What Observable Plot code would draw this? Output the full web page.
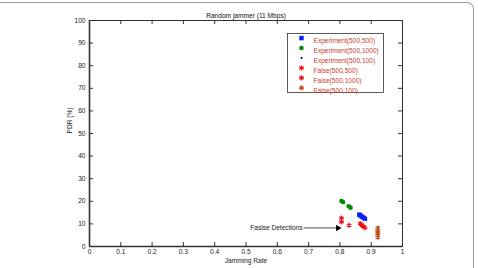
<!DOCTYPE html>
<html>
<head>
<meta charset="utf-8">
<script src="https://cdn.jsdelivr.net/npm/d3@7"></script>
<script src="https://cdn.jsdelivr.net/npm/@observablehq/plot@0.6"></script>
<style>
  body { margin: 0; background: #fff; }
  #fig { position: relative; width: 478px; height: 268px; overflow: hidden; }
  #edge {
    position: absolute; left: -20px; top: 2px; width: 494px; height: 320px;
    border-top: 1px solid #9a9a9a; border-right: 1px solid #9a9a9a;
    border-top-right-radius: 7px; box-sizing: border-box;
  }
  #fig svg { position: absolute; left: 0; top: 0; }
</style>
</head>
<body>
<div id="fig"><div id="edge"></div></div>
<script>
// Axis ticks
const xTicks = [0, 0.1, 0.2, 0.3, 0.4, 0.5, 0.6, 0.7, 0.8, 0.9, 1];
const yTicks = [0, 10, 20, 30, 40, 50, 60, 70, 80, 90, 100];

// Series names (legend order)
const seriesNames = [
  "Experiment(500,500)", "Experiment(500,1000)", "Experiment(500,100)",
  "False(500,500)", "False(500,1000)", "False(500,100)"
];

// Measured PDR vs jamming rate
const exp500x = [0.862, 0.866, 0.870, 0.875, 0.880];
const exp500y = [14.1, 13.7, 13.2, 12.8, 12.3];
const exp1000x = [0.805, 0.810, 0.828, 0.834];
const exp1000y = [20.1, 19.7, 17.8, 17.2];
const exp100x = [0.921, 0.921, 0.921, 0.921];
const exp100y = [8.7, 7.5, 6.3, 5.1];

// False detections
const false500x = [0.865, 0.870, 0.875, 0.880];
const false500y = [10.1, 9.5, 8.9, 8.3];
const false1000x = [0.805, 0.805, 0.829];
const false1000y = [12.6, 10.9, 9.4];
const false100x = [0.921, 0.921, 0.921, 0.921, 0.921];
const false100y = [8.0, 7.0, 6.0, 5.0, 4.1];

// Annotation
const noteText = "Faslse Detections";
const noteX = [0.684, 0.800];
const noteY = 8.2;

const title = "Random jammer (11 Mbps)";
const xLabel = "Jamming Rate";
const yLabel = "PDR (%)";

const zip = (xs, ys) => xs.map((x, i) => ({x, y: ys[i]}));

const W = 478, H = 268;
const mL = 89, mR = 76, mT = 20, mB = 22;
const pw = W - mL - mR, ph = H - mT - mB;
const font = "'Liberation Sans', Arial, sans-serif";
const fs = 6.6;
const axisColor = "#333";
const legendText = "#c8402e";

const styles = [
  {symbol: "square", fill: "#0a1ef5", r: 2.5},
  {symbol: "circle", fill: "#008a00", r: 2.3},
  {symbol: "circle", fill: "#000", r: 1.0},
  {symbol: "asterisk", stroke: "#f01010", r: 2.4, strokeWidth: 1.3},
  {symbol: "asterisk", stroke: "#e0141c", r: 2.4, strokeWidth: 1.3},
  {symbol: "asterisk", stroke: "#c4501c", r: 2.4, strokeWidth: 1.3}
];
const seriesData = [
  zip(exp500x, exp500y), zip(exp1000x, exp1000y), zip(exp100x, exp100y),
  zip(false500x, false500y), zip(false1000x, false1000y), zip(false100x, false100y)
];

const legendMarks = seriesNames.flatMap((name, i) => [
  Plot.dot([name], {frameAnchor: "top-right", dx: -101, dy: 17.6 + 9.95 * i, ...styles[i]}),
  Plot.text([name], {frameAnchor: "top-right", dx: -89, dy: 17.6 + 9.95 * i, text: d => d,
    textAnchor: "start", fill: legendText, fontSize: fs})
]);

const chart = Plot.plot({
  width: W, height: H,
  marginLeft: mL, marginRight: mR, marginTop: mT, marginBottom: mB,
  style: {fontFamily: font, background: "transparent"},
  x: {domain: [0, 1]},
  y: {domain: [0, 100]},
  marks: [
    // inward ticks on all four sides
    Plot.tickX(xTicks, {x: d => d, insetTop: ph - 4, stroke: axisColor}),
    Plot.tickX(xTicks, {x: d => d, insetBottom: ph - 4, stroke: axisColor}),
    Plot.tickY(yTicks, {y: d => d, insetLeft: pw - 4, stroke: axisColor}),
    Plot.tickY(yTicks, {y: d => d, insetRight: pw - 4, stroke: axisColor}),
    Plot.axisX({ticks: xTicks, tickSize: 0, tickPadding: 3, tickFormat: d => String(d),
      fontSize: fs, fill: "#222", label: null}),
    Plot.axisY({ticks: yTicks, tickSize: 0, tickPadding: 4, tickFormat: d => String(d),
      fontSize: fs, fill: "#222", label: null}),
    Plot.frame({stroke: axisColor, strokeWidth: 1}),
    Plot.ruleX([0], {stroke: axisColor, strokeWidth: 1.6}),
    Plot.ruleY([0], {stroke: axisColor, strokeWidth: 1.6}),
    // series
    ...seriesData.map((d, i) => Plot.dot(d, {x: "x", y: "y", ...styles[i]})),
    // annotation
    Plot.text([noteText], {x: noteX[0], y: noteY, text: d => d, textAnchor: "end", dx: -1,
      fontSize: fs, fill: "#222"}),
    Plot.link([{x1: noteX[0], x2: noteX[1], y: noteY}], {x1: "x1", x2: "x2", y1: "y", y2: "y",
      stroke: "#222", strokeWidth: 0.8}),
    Plot.dot([{x: noteX[1], y: noteY}], {x: "x", y: "y", symbol: "triangle", rotate: 90,
      r: 2.4, fill: "#000", dx: -2}),
    // legend
    Plot.frame({insetLeft: 198, insetRight: 19, insetTop: 13, insetBottom: 154,
      stroke: "#333", fill: "#fff", strokeWidth: 0.8}),
    ...legendMarks,
    // titles
    Plot.text([title], {frameAnchor: "top", dy: -7, text: d => d, fontSize: fs, fill: "#111"}),
    Plot.text([xLabel], {frameAnchor: "bottom", dy: 16, text: d => d, fontSize: fs, fill: "#222"}),
    Plot.text([yLabel], {frameAnchor: "left", dx: -20, rotate: -90, text: d => d, fontSize: fs, fill: "#222"})
  ]
});
document.getElementById("fig").appendChild(chart);
</script>
</body>
</html>
